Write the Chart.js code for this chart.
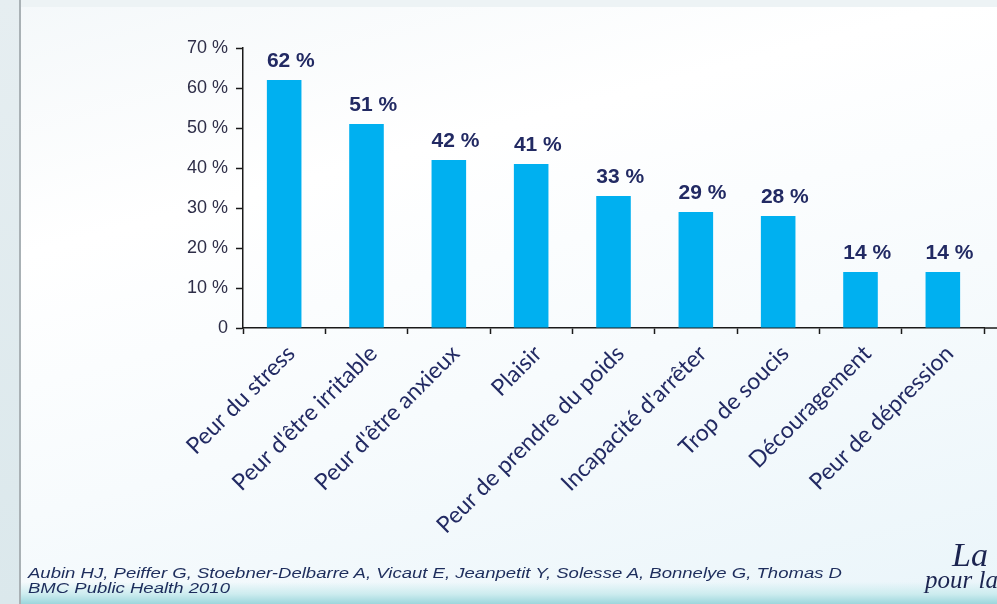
<!DOCTYPE html>
<html lang="fr">
<head>
<meta charset="utf-8">
<title>Motifs de poursuite du tabagisme</title>
<script src="https://cdn.jsdelivr.net/npm/chart.js@4.4.1/dist/chart.umd.min.js"></script>
<style>
  html, body { margin: 0; padding: 0; }
  body {
    width: 997px; height: 604px; overflow: hidden; position: relative;
    background:
      linear-gradient(to bottom, rgba(255,255,255,0) 0px, rgba(255,255,255,0) 582px, #cdecef 594px, #9cd6dc 604px),
      linear-gradient(165deg, #f4f8fa 0%, #ffffff 30%, #f7fbfd 60%, #eaf5fa 100%);
    font-family: "Liberation Sans", Arial, sans-serif;
  }
  #leftStrip {
    position: absolute; left: 0; top: 0; width: 19px; height: 604px;
    background: linear-gradient(to bottom, #e6eef1, #dbe8ec);
    border-right: 2px solid #a9b1b5;
  }
  #topStrip {
    position: absolute; left: 21px; top: 0; right: 0; height: 7px;
    background: #edf3f5;
  }
  #chartWrap { position: absolute; left: 0; top: 0; width: 997px; height: 604px; }
  .source {
    position: absolute; left: 28px; color: #1d2d5c; font-style: italic;
    font-size: 15.5px; line-height: 15px; white-space: nowrap;
    transform-origin: 0 0;
  }
  .logo {
    position: absolute; color: #1b2450; font-family: "Liberation Serif", serif;
    font-style: italic; white-space: nowrap;
  }
</style>
</head>
<body>
<div id="leftStrip"></div>
<div id="topStrip"></div>
<div id="chartWrap"><canvas id="chart" width="997" height="604"></canvas></div>
<div class="source" id="ref1" style="top:565px;">Aubin HJ, Peiffer G, Stoebner-Delbarre A, Vicaut E, Jeanpetit Y, Solesse A, Bonnelye G, Thomas D</div>
<div class="source" id="ref2" style="top:580px;">BMC Public Health 2010</div>
<div class="logo" style="left:952px; top:538px; font-size:34px; line-height:34px;">La</div>
<div class="logo" style="left:925px; top:567px; font-size:25px; line-height:25px;">pour la</div>

<script>
// Raisons invoquées pour continuer à fumer (% des fumeurs)
const categories = [
  "Peur du stress",
  "Peur d'être irritable",
  "Peur d'être anxieux",
  "Plaisir",
  "Peur de prendre du poids",
  "Incapacité d'arrêter",
  "Trop de soucis",
  "Découragement",
  "Peur de dépression"
];
const percentages = [62, 51, 42, 41, 33, 29, 28, 14, 14];
const yTickValues = [0, 10, 20, 30, 40, 50, 60, 70];

const BAR_COLOR = "#00b0f0";
const NAVY = "#222a63";
const CATEGORY_FONT = "23px Lato, 'Open Sans', sans-serif";

// The reference line is set in a wide italic: stretch both lines by the same factor
(function stretchReference() {
  const first = document.getElementById("ref1");
  const factor = 814 / first.getBoundingClientRect().width;
  ["ref1", "ref2"].forEach(id => {
    document.getElementById(id).style.transform = "scaleX(" + factor + ")";
  });
})();

// Writes "NN %" above each bar, from the bar's own value
const valueLabels = {
  id: "valueLabels",
  afterDatasetsDraw(chart) {
    const ctx = chart.ctx;
    const meta = chart.getDatasetMeta(0);
    const values = chart.data.datasets[0].data;
    ctx.save();
    ctx.font = "bold 21px 'Liberation Sans', Arial, sans-serif";
    ctx.fillStyle = NAVY;
    ctx.textAlign = "left";
    ctx.textBaseline = "alphabetic";
    meta.data.forEach((bar, i) => {
      ctx.fillText(values[i] + " %", bar.x - bar.width / 2, bar.y - 13);
    });
    ctx.restore();
  }
};

// Category names at 45°, ending near each category centre
const categoryLabels = {
  id: "categoryLabels",
  afterDraw(chart) {
    const { ctx } = chart;
    const xScale = chart.scales.x;
    const labels = chart.data.labels;
    ctx.save();
    ctx.font = CATEGORY_FONT;
    ctx.fillStyle = NAVY;
    ctx.textAlign = "right";
    ctx.textBaseline = "middle";
    labels.forEach((label, i) => {
      const x = xScale.getPixelForTick(i) - 3;
      const y = xScale.top + 12;
      ctx.save();
      ctx.translate(x, y);
      ctx.rotate(-Math.PI / 4);
      ctx.fillText(label, 0, 13.8);
      ctx.restore();
    });
    ctx.restore();
  }
};

// Axis line continues to the right edge of the slide
const axisExtension = {
  id: "axisExtension",
  afterDraw(chart) {
    const { ctx, chartArea } = chart;
    const y = chart.scales.y.getPixelForValue(0);
    ctx.save();
    ctx.strokeStyle = "#1a1a1a";
    ctx.lineWidth = 1.5;
    ctx.beginPath();
    ctx.moveTo(chartArea.right, y);
    ctx.lineTo(chart.width, y);
    ctx.stroke();
    ctx.restore();
  }
};

new Chart(document.getElementById("chart"), {
  type: "bar",
  data: {
    labels: categories,
    datasets: [{
      data: percentages,
      backgroundColor: BAR_COLOR,
      borderWidth: 0,
      categoryPercentage: 1.0,
      barPercentage: 0.42
    }]
  },
  options: {
    responsive: false,
    animation: false,
    layout: { padding: { left: 0, top: 48, right: 13, bottom: 0 } },
    plugins: {
      legend: { display: false },
      tooltip: { enabled: false },
      title: { display: false }
    },
    scales: {
      x: {
        afterFit(scale) { scale.height = 276; },
        grid: {
          display: true,
          drawOnChartArea: false,
          drawTicks: true,
          tickLength: 6,
          tickWidth: 1.5,
          tickColor: "#1a1a1a",
          offset: true
        },
        border: { display: true, color: "#1a1a1a", width: 1.5 },
        ticks: {
          display: false,
          autoSkip: false
        }
      },
      y: {
        min: 0,
        max: 70,
        afterFit(scale) { scale.width = 243; },
        afterBuildTicks(scale) { scale.ticks = yTickValues.map(v => ({ value: v })); },
        grid: {
          display: true,
          drawOnChartArea: false,
          drawTicks: true,
          tickLength: 7,
          tickWidth: 1.5,
          tickColor: "#1a1a1a"
        },
        border: { display: true, color: "#1a1a1a", width: 1.5 },
        ticks: {
          padding: 8,
          color: "#2e2e48",
          font: { family: "'Liberation Sans', Arial, sans-serif", size: 18 },
          callback: (v) => (v === 0 ? "0" : v + " %")
        }
      }
    }
  },
  plugins: [valueLabels, categoryLabels, axisExtension]
});
</script>
</body>
</html>
